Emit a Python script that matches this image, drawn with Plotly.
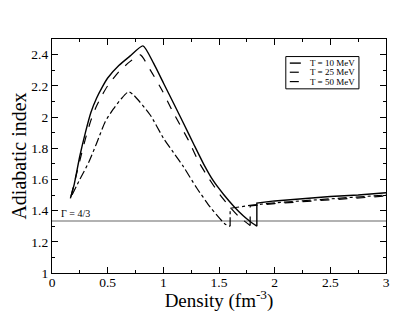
import plotly.graph_objects as go

# T = 10 MeV
x10 = [0.165, 0.2, 0.25, 0.3, 0.35, 0.4, 0.45, 0.5, 0.6, 0.7, 0.817, 0.912, 1.002, 1.092, 1.181, 1.27, 1.361, 1.45, 1.54, 1.63, 1.72, 1.78, 1.84, 1.84, 2.0, 2.25, 2.5, 2.75, 3.0]
y10 = [1.478, 1.57, 1.75, 1.90, 2.03, 2.12, 2.19, 2.25, 2.33, 2.39, 2.456, 2.345, 2.216, 2.088, 1.96, 1.83, 1.70, 1.59, 1.505, 1.43, 1.365, 1.33, 1.30, 1.448, 1.462, 1.478, 1.49, 1.50, 1.514]

# T = 25 MeV
x25 = [0.17, 0.25, 0.3, 0.35, 0.4, 0.45, 0.5, 0.6, 0.7, 0.793, 0.882, 0.987, 1.077, 1.167, 1.226, 1.32, 1.41, 1.50, 1.59, 1.68, 1.78, 1.78, 2.0, 2.25, 2.5, 2.75, 3.0]
y25 = [1.49, 1.72, 1.86, 1.98, 2.07, 2.14, 2.20, 2.29, 2.355, 2.398, 2.302, 2.173, 2.045, 1.927, 1.85, 1.71, 1.605, 1.51, 1.43, 1.36, 1.305, 1.43, 1.445, 1.458, 1.47, 1.48, 1.493]

# T = 50 MeV
x50 = [0.18, 0.25, 0.33, 0.40, 0.478, 0.55, 0.62, 0.688, 0.733, 0.882, 1.002, 1.09, 1.181, 1.30, 1.42, 1.556, 1.60, 1.60, 1.795, 2.0, 2.25, 2.5, 2.75, 3.0]
y50 = [1.50, 1.60, 1.71, 1.83, 1.97, 2.05, 2.115, 2.162, 2.141, 2.013, 1.863, 1.773, 1.681, 1.545, 1.424, 1.313, 1.30, 1.415, 1.435, 1.45, 1.463, 1.475, 1.488, 1.50]

# index where the curve jumps (end of the lower branch)
jump10, jump25, jump50 = 22, 20, 16

names = ["T = 10 MeV", "T = 25 MeV", "T = 50 MeV"]
dashes = ["solid", "dash", "dashdot"]
widths = [1.4, 1.2, 1.2]

gamma_x = [0, 3]
gamma_y = [4/3, 4/3]

serif = "Liberation Serif, Times New Roman, serif"

fig = go.Figure()
fig.add_trace(go.Scatter(x=gamma_x, y=gamma_y, mode="lines",
                         line=dict(color="#999999", width=1.5), showlegend=False, hoverinfo="skip"))

for xs, ys, j, name, dash, w in zip([x10, x25, x50], [y10, y25, y50], [jump10, jump25, jump50],
                                      names, dashes, widths):
    fig.add_trace(go.Scatter(x=xs[:j + 1], y=ys[:j + 1], mode="lines", name=name, legendgroup=name,
                             showlegend=False,
                             line=dict(color="black", width=w, dash=dash, shape="spline", smoothing=0.6)))
    fig.add_trace(go.Scatter(x=xs[j:], y=ys[j:], mode="lines", name=name, legendgroup=name,
                             showlegend=False,
                             line=dict(color="black", width=w, dash=dash)))

fig.add_annotation(x=0.06, y=1.333, text="Γ = 4/3", showarrow=False, xanchor="left", yanchor="bottom",
                   font=dict(family=serif, size=10, color="black"))

# legend box (drawn in paper coordinates)
fig.add_shape(type="rect", xref="paper", yref="paper", x0=0.70, x1=0.919, y0=0.787, y1=0.925,
              line=dict(color="black", width=1), fillcolor="white", layer="above")
legend_rows = [0.897, 0.858, 0.818]
for yy, name, dash, w in zip(legend_rows, names, dashes, widths):
    fig.add_shape(type="line", xref="paper", yref="paper", x0=0.712, x1=0.745, y0=yy, y1=yy,
                  line=dict(color="black", width=w, dash=dash), layer="above")
    fig.add_annotation(xref="paper", yref="paper", x=0.766, y=yy, text=name, showarrow=False,
                       xanchor="left", yanchor="middle", font=dict(family=serif, size=9, color="black"))

axis_common = dict(showline=True, linecolor="black", linewidth=1.2, mirror="allticks",
                   ticks="inside", ticklen=6, tickcolor="black", tickwidth=1,
                   showgrid=False, zeroline=False, automargin=False,
                   tickfont=dict(family=serif, size=13.5, color="black"),
                   minor=dict(ticks="inside", ticklen=3, tickcolor="black"))

fig.update_xaxes(range=[0, 3], tickvals=[0, 0.5, 1, 1.5, 2, 2.5, 3],
                 ticktext=["0", "0.5", "1", "1.5", "2", "2.5", "3"], ticklabelstandoff=-3,
                 title=dict(text="Density (fm<sup>-3</sup>)", font=dict(family=serif, size=19, color="black"), standoff=0),
                 **axis_common)
fig.update_yaxes(range=[1, 2.5], tickvals=[1, 1.2, 1.4, 1.6, 1.8, 2, 2.2, 2.4],
                 ticktext=["1", "1.2", "1.4", "1.6", "1.8", "2", "2.2", "2.4"],
                 title=dict(text="Adiabatic index", font=dict(family=serif, size=20, color="black"), standoff=0),
                 **axis_common)
fig.update_xaxes(minor=dict(dtick=0.25))
fig.update_yaxes(minor=dict(dtick=0.1))

fig.update_layout(
    width=407, height=304,
    margin=dict(l=44, r=29, t=31, b=39),
    plot_bgcolor="white", paper_bgcolor="white",
    showlegend=False,
)

fig.write_html("out.html")
